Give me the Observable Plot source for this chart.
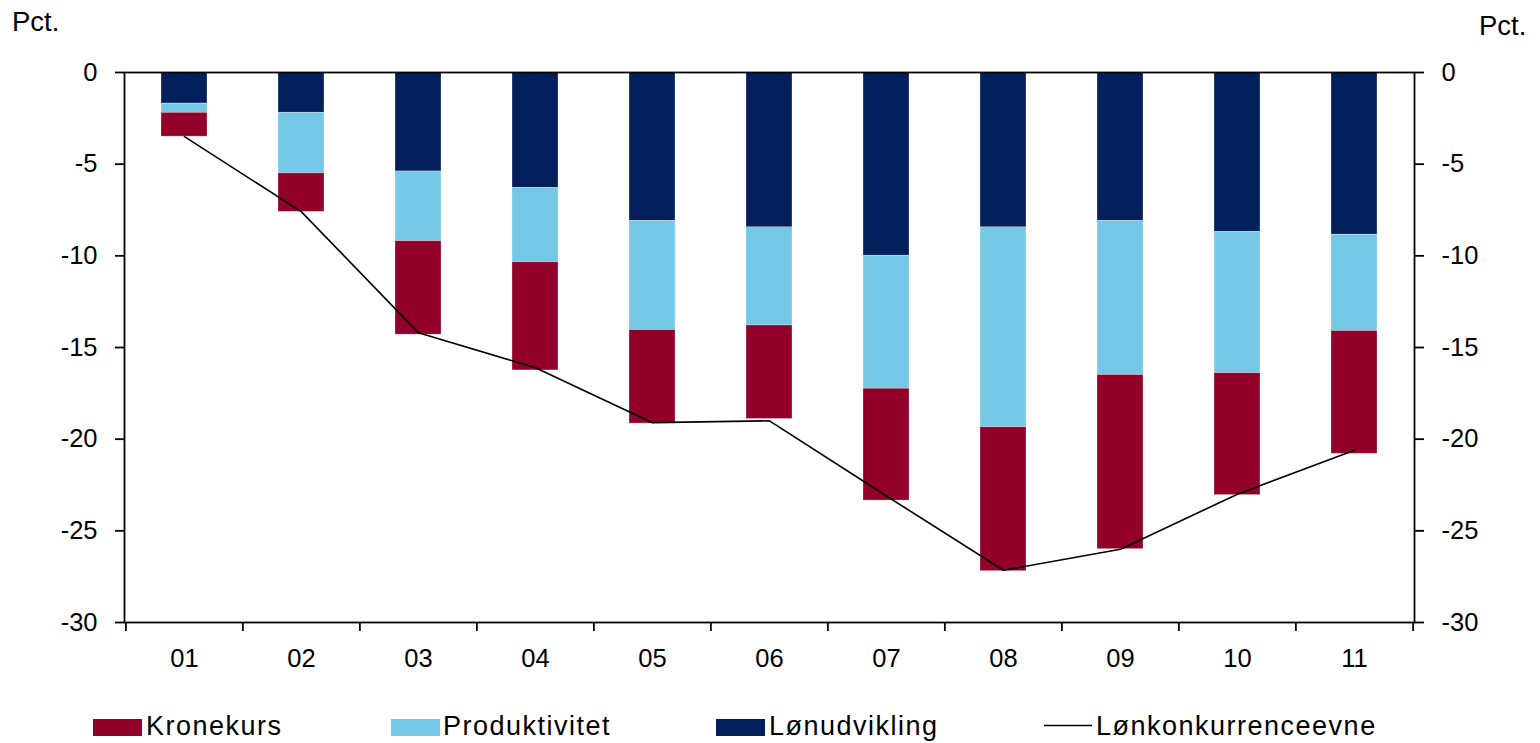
<!DOCTYPE html>
<html>
<head>
<meta charset="utf-8">
<script src="https://cdn.jsdelivr.net/npm/d3@7"></script>
<script src="https://cdn.jsdelivr.net/npm/@observablehq/plot@0.6"></script>
<style>
  html, body { margin: 0; padding: 0; background: #fff; }
  #wrap { position: relative; width: 1540px; height: 743px; font-family: "Liberation Sans", Arial, sans-serif; }
  #overlay { position: absolute; left: 0; top: 0; pointer-events: none; }
</style>
</head>
<body>
<div id="wrap"></div>
<script>
const years = ["01","02","03","04","05","06","07","08","09","10","11"];
const lonudvikling = [-1.7, -2.2, -5.4, -6.3, -8.1, -8.45, -10.0, -8.45, -8.1, -8.7, -8.85];
const produktivitet = [-0.5, -3.3, -3.8, -4.05, -5.95, -5.35, -7.25, -10.9, -8.4, -7.7, -5.25];
const kronekurs = [-1.3, -2.1, -5.1, -5.9, -5.1, -5.1, -6.1, -7.85, -9.5, -6.65, -6.7];
const lonkonkurrenceevne = [-3.5, -7.6, -14.2, -16.1, -19.1, -19.0, -23.1, -27.15, -26.0, -23.0, -20.6];
const yTicks = [0, -5, -10, -15, -20, -25, -30];

const seriesNames = ["Kronekurs", "Produktivitet", "Lønudvikling"];
const seriesColors = ["#92002A", "#75C8E5", "#031F5C"];
const lineName = "Lønkonkurrenceevne";

const stacked = [];
years.forEach((yr, i) => {
  stacked.push({year: yr, series: "Lønudvikling", value: lonudvikling[i]});
  stacked.push({year: yr, series: "Produktivitet", value: produktivitet[i]});
  stacked.push({year: yr, series: "Kronekurs", value: kronekurs[i]});
});
const lineData = years.map((yr, i) => ({year: yr, value: lonkonkurrenceevne[i]}));

const W = 1540, H = 700, ML = 124, MR = 126, MT = 72, MB = 78;
const bw = (W - ML - MR) / years.length;

const chart = Plot.plot({
  width: W, height: H,
  marginLeft: ML, marginRight: MR, marginTop: MT, marginBottom: MB,
  style: {fontFamily: "'Liberation Sans', Arial, sans-serif", fontSize: "25.5px", color: "#000", background: "#fff"},
  x: {type: "band", domain: years, paddingInner: 0.607, paddingOuter: 0.3035, label: null},
  y: {domain: [-30, 0], label: null},
  color: {domain: seriesNames, range: seriesColors},
  marks: [
    Plot.barY(stacked, {x: "year", y: "value", fill: "series", order: ["Lønudvikling", "Produktivitet", "Kronekurs"], stroke: "#fff", strokeOpacity: 0.35, strokeWidth: 0.8}),
    Plot.line(lineData, {x: "year", y: "value", stroke: "#000", strokeWidth: 1.6}),
    Plot.frame({stroke: "#000", strokeWidth: 1.8}),
    Plot.axisY({anchor: "left", ticks: yTicks, tickSize: 9, tickPadding: 18, tickFormat: d => String(d), label: null, strokeWidth: 1.8}),
    Plot.axisY({anchor: "right", ticks: yTicks, tickSize: 9, tickPadding: 18, tickFormat: d => String(d), label: null, strokeWidth: 1.8}),
    Plot.axisX({anchor: "bottom", tickSize: 0, tickPadding: 26, label: null}),
    Plot.axisX({anchor: "bottom", tickSize: 9, tickFormat: () => "", dx: -bw / 2, label: null, strokeWidth: 1.8}),
    Plot.axisX({anchor: "bottom", ticks: [years[years.length - 1]], tickSize: 9, tickFormat: () => "", dx: bw / 2, label: null, strokeWidth: 1.8})
  ]
});
document.getElementById("wrap").appendChild(chart);

// overlay: unit labels and legend
const ns = "http://www.w3.org/2000/svg";
const ov = document.createElementNS(ns, "svg");
ov.setAttribute("id", "overlay");
ov.setAttribute("width", 1540);
ov.setAttribute("height", 743);
ov.style.fontFamily = "'Liberation Sans', Arial, sans-serif";
function txt(x, y, s, size, ls) {
  const t = document.createElementNS(ns, "text");
  t.setAttribute("x", x); t.setAttribute("y", y);
  t.setAttribute("font-size", size);
  t.setAttribute("fill", "#000");
  if (ls) t.setAttribute("letter-spacing", ls);
  t.textContent = s;
  ov.appendChild(t);
}
txt(12, 31, "Pct.", 27.5);
txt(1479, 35, "Pct.", 27.5);

const legendItems = [
  {name: seriesNames[0], color: seriesColors[0], x: 93, tx: 146, type: "rect"},
  {name: seriesNames[1], color: seriesColors[1], x: 391, tx: 443, type: "rect"},
  {name: seriesNames[2], color: seriesColors[2], x: 716, tx: 769, type: "rect"},
  {name: lineName, color: "#000", x: 1044, tx: 1096, type: "line"}
];
legendItems.forEach(it => {
  if (it.type === "rect") {
    const r = document.createElementNS(ns, "rect");
    r.setAttribute("x", it.x); r.setAttribute("y", 719);
    r.setAttribute("width", 49); r.setAttribute("height", 17);
    r.setAttribute("fill", it.color);
    ov.appendChild(r);
  } else {
    const l = document.createElementNS(ns, "line");
    l.setAttribute("x1", it.x); l.setAttribute("x2", it.x + 48);
    l.setAttribute("y1", 725.5); l.setAttribute("y2", 725.5);
    l.setAttribute("stroke", it.color); l.setAttribute("stroke-width", 1.6);
    ov.appendChild(l);
  }
  txt(it.tx, 735, it.name, 27, 1.5);
});
document.getElementById("wrap").appendChild(ov);
</script>
</body>
</html>
